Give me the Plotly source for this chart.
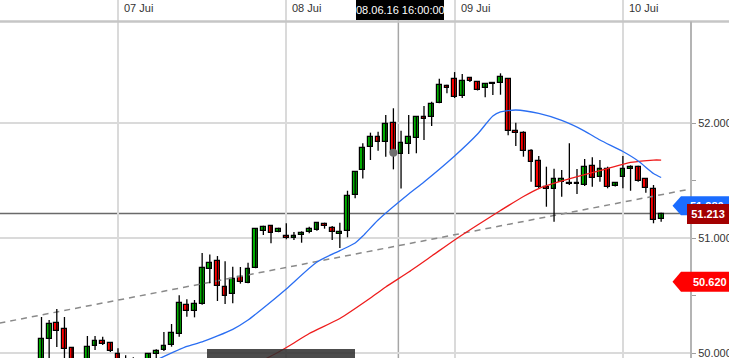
import plotly.graph_objects as go

# ---------------- data ----------------
day_labels = ["07 Jui", "08 Jui", "09 Jui", "10 Jui"]
day_index = [0, 22, 44, 66]

candle_index = list(range(-10, 72))
opens = [49.870, 50.122, 50.261, 50.209, 50.044, 49.920, 49.922, 50.061, 50.104, 50.090,
         49.989, 49.910, 49.890, 49.870, 49.920, 49.991, 50.026, 50.067, 50.163, 50.420,
         50.363, 50.424, 50.728, 50.797, 50.571, 50.513, 50.658, 50.606, 50.737, 51.063,
         51.104, 51.055, 51.017, 50.997, 51.026, 51.050, 51.070, 51.122, 51.084, 51.032,
         51.057, 51.372, 51.594, 51.789, 51.881, 51.835, 51.997, 51.728, 51.817, 51.867,
         52.050, 52.050, 52.171, 52.322, 52.380, 52.235, 52.389, 52.359, 52.304, 52.337,
         52.345, 52.380, 51.928, 51.910, 51.757, 51.667, 51.446, 51.426, 51.490, 51.467,
         51.481, 51.458, 51.629, 51.528, 51.597, 51.452, 51.528, 51.597, 51.615, 51.510,
         51.424, 51.163]
highs = [50.313, 50.287, 50.383, 50.313, 50.052, 49.940, 50.148, 50.148, 50.142, 50.096,
         50.041, 49.980, 49.962, 49.940, 50.000, 50.032, 50.183, 50.252, 50.502, 50.467,
         50.461, 50.870, 50.857, 50.843, 50.797, 50.750, 50.748, 50.785, 51.084, 51.107,
         51.110, 51.090, 51.128, 51.052, 51.058, 51.098, 51.139, 51.133, 51.104, 51.133,
         51.411, 51.583, 51.823, 51.916, 51.924, 52.070, 52.128, 51.933, 52.070, 52.061,
         52.148, 52.185, 52.385, 52.333, 52.443, 52.426, 52.391, 52.365, 52.345, 52.357,
         52.432, 52.383, 52.003, 51.928, 51.771, 51.713, 51.620, 51.603, 51.591, 51.823,
         51.600, 51.687, 51.702, 51.678, 51.620, 51.478, 51.713, 51.632, 51.629, 51.519,
         51.461, 51.220]
lows = [49.835, 49.904, 50.052, 49.922, 49.887, 49.840, 49.904, 50.026, 50.070, 50.009,
        49.887, 49.860, 49.830, 49.840, 49.900, 49.957, 50.017, 50.055, 50.142, 50.316,
        50.310, 50.420, 50.606, 50.452, 50.426, 50.432, 50.603, 50.606, 50.737, 51.026,
        50.954, 51.050, 50.989, 50.983, 50.959, 51.041, 51.063, 51.081, 50.983, 50.913,
        51.006, 51.345, 51.517, 51.678, 51.759, 51.707, 51.597, 51.430, 51.730, 51.737,
        51.852, 51.974, 52.171, 52.258, 52.217, 52.217, 52.357, 52.283, 52.223, 52.243,
        52.246, 51.893, 51.800, 51.707, 51.490, 51.432, 51.272, 51.142, 51.359, 51.461,
        51.383, 51.452, 51.446, 51.490, 51.432, 51.448, 51.432, 51.411, 51.490, 51.394,
        51.128, 51.142]
closes = [50.122, 50.252, 50.191, 50.035, 49.922, 49.870, 50.050, 50.104, 50.076, 50.017,
          49.904, 49.890, 49.870, 49.920, 49.987, 50.017, 50.061, 50.171, 50.432, 50.363,
          50.424, 50.735, 50.780, 50.580, 50.493, 50.641, 50.615, 50.728, 51.076, 51.098,
          51.041, 51.078, 50.997, 51.015, 51.046, 51.078, 51.133, 51.104, 51.050, 51.052,
          51.365, 51.574, 51.780, 51.876, 51.837, 51.989, 51.742, 51.829, 51.876, 52.050,
          52.032, 52.163, 52.328, 52.304, 52.223, 52.368, 52.365, 52.287, 52.337, 52.350,
          52.397, 51.933, 51.910, 51.757, 51.658, 51.446, 51.426, 51.510, 51.510, 51.481,
          51.467, 51.620, 51.519, 51.597, 51.441, 51.476, 51.597, 51.615, 51.496, 51.432,
          51.157, 51.213]

blue_ma_index = [5, 9, 11, 15, 17, 19, 22, 26, 29, 31, 32, 34, 38, 40, 44, 47, 49, 50,
                 52, 55, 58, 61, 63, 66, 68, 70, 71]
blue_ma_value = [49.939, 50.057, 50.096, 50.206, 50.287, 50.391, 50.557, 50.791, 50.890,
                 50.957, 51.017, 51.157, 51.383, 51.487, 51.713, 51.904, 52.061, 52.096,
                 52.113, 52.083, 52.022, 51.930, 51.852, 51.752, 51.670, 51.561, 51.526]

red_ma_index = [19, 21, 23, 25, 29, 33, 35, 38, 41, 44, 47, 50, 53, 55, 58, 61, 64, 67, 70, 71]
red_ma_value = [49.939, 50.009, 50.087, 50.170, 50.300, 50.478, 50.574, 50.704, 50.843,
                50.983, 51.113, 51.239, 51.361, 51.430, 51.496, 51.552, 51.604, 51.657,
                51.678, 51.678]

trend_index = [-15.5, 75]
trend_value = [50.260, 51.428]

crosshair_index = 36.65
crosshair_price = 51.213
crosshair_label = "08.06.16 16:00:00"
crosshair_point_index = 36
crosshair_point_value = 51.742

price_ticks = [50.0, 51.0, 52.0]
price_tick_labels = ["50.000", "51.000", "52.000"]
minor_ticks = [50.5, 51.5]

label_values = [51.280, 51.213, 50.620]
label_texts = ["51.280", "51.213", "50.620"]

# ---------------- styles ----------------
GREEN = "#00b000"
RED = "#ff0000"
PLOT_W = 691.0
FONT = "Liberation Sans, Arial, sans-serif"
x_range = [(0 - 118) / 7.65, (PLOT_W - 118) / 7.65]
y_range = [49.9565, 53.0696]
ppu = 358 / (y_range[1] - y_range[0])  # px per price unit

fig = go.Figure()

# trend line (dashed)
fig.add_trace(go.Scatter(x=trend_index, y=trend_value, mode="lines",
                         line=dict(color="#8a8a8a", width=1.5, dash="6px,5px"),
                         hoverinfo="skip", showlegend=False))

# wicks
wx, wy = [], []
for i, h, l in zip(candle_index, highs, lows):
    wx += [i, i, None]
    wy += [l, h, None]
fig.add_trace(go.Scatter(x=wx, y=wy, mode="lines", line=dict(color="black", width=1.3),
                         hoverinfo="skip", showlegend=False))

# bodies
for up, col in ((True, GREEN), (False, RED)):
    bx, bb, bh = [], [], []
    for i, o, c in zip(candle_index, opens, closes):
        if (c >= o) == up:
            bx.append(i)
            bb.append(min(o, c))
            bh.append(max(abs(c - o), 0.006))
    fig.add_trace(go.Bar(x=bx, y=bh, base=bb, width=0.62,
                         marker=dict(color=col, line=dict(color="black", width=1.2)),
                         hoverinfo="skip", showlegend=False))

# moving averages
fig.add_trace(go.Scatter(x=red_ma_index, y=red_ma_value, mode="lines",
                         line=dict(color="#ee1c1c", width=1.3, shape="spline", smoothing=0.6),
                         hoverinfo="skip", showlegend=False))
fig.add_trace(go.Scatter(x=blue_ma_index, y=blue_ma_value, mode="lines",
                         line=dict(color="#2a6ef2", width=1.3, shape="spline", smoothing=0.6),
                         hoverinfo="skip", showlegend=False))

# crosshair point
fig.add_trace(go.Scatter(x=[crosshair_point_index], y=[crosshair_point_value], mode="markers",
                         marker=dict(color="#6e6e6e", size=8),
                         hoverinfo="skip", showlegend=False))

shapes = []
# crosshair lines
shapes.append(dict(type="line", xref="x", yref="paper", x0=crosshair_index, x1=crosshair_index,
                   y0=0, y1=1, line=dict(color="#a6a6a6", width=1.5), layer="below"))
shapes.append(dict(type="line", xref="paper", yref="y", x0=0, x1=1, y0=crosshair_price,
                   y1=crosshair_price, line=dict(color="#6a6a6a", width=1.5), layer="below"))
# top axis band line
top_line_y = (358 - 21.5) / 358
shapes.append(dict(type="line", xref="paper", yref="paper", x0=0, x1=729 / PLOT_W,
                   y0=top_line_y, y1=top_line_y, line=dict(color="#c6c6c6", width=2.5)))
# right axis line
shapes.append(dict(type="line", xref="paper", yref="paper", x0=1, x1=1, y0=0, y1=top_line_y,
                   line=dict(color="#b4b4b4", width=2)))
# crosshair time box
shapes.append(dict(type="rect", xref="paper", yref="paper", x0=356 / PLOT_W, x1=444 / PLOT_W,
                   y0=(358 - 20) / 358, y1=1.0, fillcolor="black", line=dict(width=0)))
# bottom navigator box
shapes.append(dict(type="rect", xref="paper", yref="paper", x0=207 / PLOT_W, x1=355 / PLOT_W,
                   y0=-0.01, y1=(358 - 349) / 358, fillcolor="rgba(45,45,45,0.85)",
                   line=dict(width=0)))


def arrow_label(value, color, tip_px=672.5, left_px=681, half_px=10):
    yc = value
    dy = half_px / ppu
    xt, xl, xr = tip_px / PLOT_W, left_px / PLOT_W, 731 / PLOT_W
    path = (f"M {xt},{yc} L {xl},{yc + dy} L {xr},{yc + dy} L {xr},{yc - dy} "
            f"L {xl},{yc - dy} Z")
    return dict(type="path", xref="paper", yref="y", path=path, fillcolor=color,
                line=dict(width=0))


shapes.append(arrow_label(label_values[0], "#1a6cff", half_px=9.5))
shapes.append(arrow_label(label_values[2], "#ff0000", half_px=10))

annotations = []
for lab, idx in zip(day_labels, day_index):
    annotations.append(dict(x=idx, y=(358 - 8.5) / 358, xref="x", yref="paper", text=lab,
                            showarrow=False, xanchor="left", yanchor="middle", xshift=4,
                            font=dict(family=FONT, size=11, color="#333333")))
annotations.append(dict(x=400 / PLOT_W, y=(358 - 10) / 358, xref="paper", yref="paper",
                        text=crosshair_label, showarrow=False, xanchor="center",
                        yanchor="middle", font=dict(family=FONT, size=11, color="white")))
# blue label text (mostly hidden by the dark red box drawn after it)
annotations.append(dict(x=707 / PLOT_W, y=label_values[0], xref="paper", yref="y",
                        text="<b>" + label_texts[0] + "</b>", showarrow=False,
                        xanchor="center", yanchor="middle",
                        font=dict(family=FONT, size=11, color="white")))
# dark red current-price box with text
annotations.append(dict(x=708 / PLOT_W, y=label_values[1], xref="paper", yref="y",
                        text="<b>" + label_texts[1] + "</b>", showarrow=False,
                        xanchor="center", yanchor="middle", width=36, height=14,
                        borderpad=2, borderwidth=1, bgcolor="#a30000", bordercolor="#a30000",
                        font=dict(family=FONT, size=11, color="white")))
annotations.append(dict(x=710 / PLOT_W, y=label_values[2], xref="paper", yref="y",
                        text="<b>" + label_texts[2] + "</b>", showarrow=False,
                        xanchor="center", yanchor="middle",
                        font=dict(family=FONT, size=11, color="white")))

fig.update_layout(
    width=729, height=358,
    margin=dict(l=0, r=729 - PLOT_W, t=0, b=0),
    paper_bgcolor="white", plot_bgcolor="white",
    barmode="overlay", bargap=0,
    showlegend=False,
    shapes=shapes, annotations=annotations,
    xaxis=dict(range=x_range, tickvals=day_index, showticklabels=False, ticks="",
               showgrid=True, gridcolor="#dadada", gridwidth=1.5, zeroline=False,
               showline=False, fixedrange=True),
    yaxis=dict(range=y_range, side="right", tickvals=price_ticks, ticktext=price_tick_labels,
               ticks="outside", ticklen=4, tickcolor="#a0a0a0", tickwidth=1,
               ticklabeloverflow="allow",
               minor=dict(tickvals=minor_ticks, ticks="outside", ticklen=4,
                          tickcolor="#a0a0a0", showgrid=False),
               showgrid=True, gridcolor="#dadada", gridwidth=1.5, zeroline=False,
               showline=False, automargin=False,
               tickfont=dict(family=FONT, size=11, color="#333333"), fixedrange=True),
    font=dict(family=FONT),
)

fig.write_html("out.html")
